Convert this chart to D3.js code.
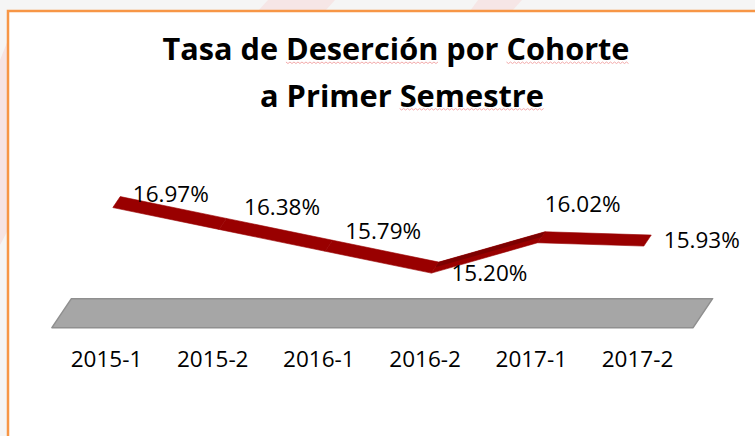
<!DOCTYPE html>
<html>
<head>
<meta charset="utf-8">
<script src="https://d3js.org/d3.v7.min.js"></script>
<style>
  body { margin: 0; background: #f5f5f5; }
  svg { display: block; }
</style>
</head>
<body>
<div id="chart"></div>
<script>
// data
var categories = ["2015-1", "2015-2", "2016-1", "2016-2", "2017-1", "2017-2"];
var rates = [16.97, 16.38, 15.79, 15.20, 16.02, 15.93];
var yDomain = [14, 18];
var titleLines = ["Tasa de Deserción por Cohorte", "a Primer Semestre"];
var flaggedWords = ["Deserción", "Cohorte", "Semestre"];

// where each data label sits relative to its point (Excel placed them by hand-ish)
var labelNudge = [[58, -6], [63, -14], [58, -12], [58, 8], [45, -31], [58, 2]];

var width = 755, height = 436;
var svg = d3.select("#chart")
  .append("svg")
    .attr("width", width)
    .attr("height", height);

// slide background and faint watermark outside the chart box
svg.append("rect").attr("width", width).attr("height", height).attr("fill", "#f5f5f5");
svg.append("path").attr("d", "M0,60 L8,40 L8,230 L0,245 Z").attr("fill", "#f6e4e4");
svg.append("path").attr("d", "M268,0 L335,0 L325,11 L258,11 Z").attr("fill", "#f6e6e6");
svg.append("path").attr("d", "M478,0 L522,0 L512,11 L470,11 Z").attr("fill", "#f6e6e6");

// chart box with the orange border (only top and left show)
svg.append("rect")
  .attr("x", 8).attr("y", 11)
  .attr("width", width).attr("height", height)
  .attr("fill", "#ffffff");
svg.append("path")
  .attr("d", "M8," + height + " V11 H" + width)
  .attr("fill", "none")
  .attr("stroke", "#f79646")
  .attr("stroke-width", 2.5);

// title
var title = svg.append("g")
  .style("font-family", "'Open Sans', sans-serif")
  .style("font-weight", "bold")
  .style("font-size", "31px");
var titleX = [396, 402], titleY = [60, 106.5], titleLen = [467, 284];
var titleNodes = titleLines.map(function(t, i) {
  return title.append("text")
    .attr("x", titleX[i])
    .attr("y", titleY[i])
    .attr("text-anchor", "middle")
    .attr("textLength", titleLen[i])
    .attr("lengthAdjust", "spacingAndGlyphs")
    .attr("fill", "#000")
    .text(t);
});

// spell-check squiggles under the flagged words
flaggedWords.forEach(function(w) {
  titleNodes.forEach(function(node, i) {
    var k = titleLines[i].indexOf(w);
    if (k < 0) return;
    var el = node.node();
    var x0 = el.getStartPositionOfChar(k).x;
    var x1 = el.getEndPositionOfChar(k + w.length - 1).x;
    var yy = titleY[i] + 2.5;
    var pts = [];
    for (var xx = x0, j = 0; xx <= x1; xx += 2, j++) pts.push([xx, yy + (j % 2 ? 1 : -0.5)]);
    title.append("path")
      .attr("d", d3.line()(pts))
      .attr("fill", "none")
      .attr("stroke", "#f3a9a9")
      .attr("stroke-width", 1);
  });
});

// scales: front plane of the 3-D box, plus a depth vector for the slant
var x = d3.scalePoint().domain(categories).range([106, 637]);
var step = x.step();
var y = d3.scaleLinear().domain(yDomain).range([327.7, 179.6]);
var depth = [19.5, -29];
function proj(px, v, d) { return [px + depth[0] * d, y(v) + depth[1] * d]; }

// floor
var fl = x(categories[0]) - step / 2 - 1, fr = x(categories[categories.length - 1]) + step / 2 + 3;
var floorPts = [proj(fl, yDomain[0], 0), proj(fr, yDomain[0], 0), proj(fr, yDomain[0], 1), proj(fl, yDomain[0], 1)];
svg.append("path")
  .attr("d", "M" + floorPts.join("L") + "Z")
  .attr("fill", "#a6a6a6")
  .attr("stroke", "#8f8f8f")
  .attr("stroke-width", 1.5)
  .attr("stroke-linejoin", "round");

// category labels
var axis = svg.append("g")
  .attr("transform", "translate(0,345)")
  .call(d3.axisBottom(x).tickSize(0).tickPadding(6));
axis.select(".domain").remove();
axis.selectAll("text")
  .style("font-family", "'Open Sans', sans-serif")
  .style("font-size", "22.5px")
  .attr("fill", "#000");

// ribbon
var dFront = 0.35, dBack = 0.73, dMid = 0.55;
var data = categories.map(function(c, i) { return { cat: c, v: rates[i] }; });
var segs = d3.pairs(data);
svg.append("g").selectAll("path")
  .data(segs)
  .enter().append("path")
    .attr("d", function(s) {
      var a = x(s[0].cat), b = x(s[1].cat);
      return "M" + [proj(a, s[0].v, dFront), proj(b, s[1].v, dFront),
                    proj(b, s[1].v, dBack), proj(a, s[0].v, dBack)].join("L") + "Z";
    })
    .attr("fill", "#990000")
    .attr("stroke", "#990000")
    .attr("stroke-width", 0.6)
    .attr("stroke-linejoin", "round");
// the rising part catches less light
svg.append("g").selectAll("path")
  .data(segs.filter(function(s) { return s[1].v > s[0].v; }))
  .enter().append("path")
    .attr("d", function(s) {
      var a = x(s[0].cat), b = x(s[1].cat);
      return "M" + [proj(a, s[0].v, dMid), proj(b, s[1].v, dMid),
                    proj(b, s[1].v, dBack), proj(a, s[0].v, dBack)].join("L") + "Z";
    })
    .attr("fill", "#7d0000");

// data labels
svg.append("g").selectAll("text")
  .data(data)
  .enter().append("text")
    .attr("x", function(d, i) { return proj(x(d.cat), d.v, dFront)[0] + labelNudge[i][0]; })
    .attr("y", function(d, i) { return proj(x(d.cat), d.v, dFront)[1] + labelNudge[i][1]; })
    .attr("text-anchor", "middle")
    .style("font-family", "'Open Sans', sans-serif")
    .style("font-size", "22.5px")
    .attr("fill", "#000")
    .text(function(d) { return d.v.toFixed(2) + "%"; });
</script>
</body>
</html>
